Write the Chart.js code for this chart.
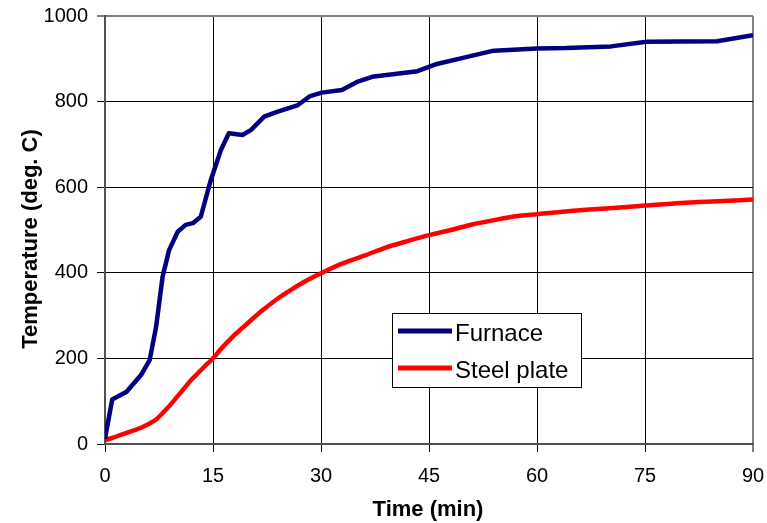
<!DOCTYPE html>
<html>
<head>
<meta charset="utf-8">
<script src="https://cdn.jsdelivr.net/npm/chart.js@4.4.0/dist/chart.umd.min.js"></script>
<style>
  html, body { margin: 0; padding: 0; background: #fff; }
  #wrap { width: 767px; height: 523px; }
</style>
</head>
<body>
<div id="wrap"><canvas id="chart" width="767" height="523"></canvas></div>
<script>
// furnace readings (min, deg C)
const furnaceTime = [0, 1, 3, 5, 6.2, 7.1, 8, 8.9, 10.1, 11.2, 12.2, 13.3, 14.7, 16.1, 17.2, 19.1, 20.3, 22.1, 23.9, 26.7, 28.5, 30.1, 32.9, 35, 37.1, 43.4, 46.1, 49.4, 54, 60, 64, 70.3, 75.2, 85, 90];
const furnaceTemp = [12, 104, 122, 161, 196, 274, 391, 453, 496, 512, 516, 531, 617, 687, 726, 722, 734, 765, 776, 791, 813, 821, 827, 846, 858, 871, 888, 901, 919, 924, 925, 929, 940, 941, 955];

// steel plate readings (min, deg C)
const steelTime = [0, 1, 2, 3, 4, 5, 6, 7, 8, 9, 10, 11, 12, 13, 14, 15, 16, 17, 18, 19, 20, 21, 22, 24, 26, 28, 30, 33, 36, 39, 42, 45, 48, 51, 54, 57, 60, 65, 70, 75, 80, 85, 90];
const steelTemp = [9, 14, 20, 26, 32, 38, 46, 56, 72, 90, 110, 130, 150, 167, 184, 200, 220, 238, 255, 270, 285, 300, 314, 340, 362, 382, 399, 422, 440, 459, 474, 488, 500, 513, 523, 532, 537, 545, 551, 557, 563, 567, 571];

const xTicks = [0, 15, 30, 45, 60, 75, 90];
const yTicks = [0, 200, 400, 600, 800, 1000];

const seriesNames = ["Furnace", "Steel plate"];
const seriesColors = ["#000080", "#ff0000"];

const FONT = "'Liberation Sans', Arial, sans-serif";

// legend box + axis titles drawn on top
const overlay = {
  id: "overlay",
  afterDraw(chart) {
    const ctx = chart.ctx;
    ctx.save();

    // x title
    ctx.fillStyle = "#000";
    ctx.font = "bold 22px " + FONT;
    ctx.textAlign = "center";
    ctx.textBaseline = "alphabetic";
    ctx.fillText("Time (min)", 428, 516);

    // y title
    ctx.save();
    ctx.translate(37, 239);
    ctx.rotate(-Math.PI / 2);
    ctx.fillText("Temperature (deg. C)", 0, 0);
    ctx.restore();

    // legend
    const lx = 392, ly = 313, lw = 189, lh = 74;
    ctx.fillStyle = "#fff";
    ctx.fillRect(lx, ly, lw, lh);
    ctx.strokeStyle = "#000";
    ctx.lineWidth = 1;
    ctx.strokeRect(lx + 0.5, ly + 0.5, lw, lh);

    const rows = [331, 368];
    ctx.font = "24px " + FONT;
    ctx.textAlign = "left";
    seriesNames.forEach((name, i) => {
      ctx.strokeStyle = seriesColors[i];
      ctx.lineWidth = 5;
      ctx.beginPath();
      ctx.moveTo(398, rows[i]);
      ctx.lineTo(452, rows[i]);
      ctx.stroke();
      ctx.fillStyle = "#000";
      ctx.fillText(name, 455, rows[i] + 10);
    });

    ctx.restore();
  }
};

new Chart(document.getElementById("chart"), {
  type: "line",
  data: {
    datasets: [
      {
        label: seriesNames[0],
        data: furnaceTime.map((t, i) => ({ x: t, y: furnaceTemp[i] })),
        borderColor: seriesColors[0],
        borderWidth: 4.5,
        pointRadius: 0,
        tension: 0,
        borderJoinStyle: "round",
        fill: false
      },
      {
        label: seriesNames[1],
        data: steelTime.map((t, i) => ({ x: t, y: steelTemp[i] })),
        borderColor: seriesColors[1],
        borderWidth: 4.5,
        pointRadius: 0,
        tension: 0.3,
        borderJoinStyle: "round",
        fill: false
      }
    ]
  },
  options: {
    responsive: false,
    animation: false,
    devicePixelRatio: 1,
    layout: { padding: { top: 16, right: 14, left: 0, bottom: 0 } },
    plugins: { legend: { display: false }, tooltip: { enabled: false } },
    scales: {
      x: {
        type: "linear",
        min: 0,
        max: 90,
        afterBuildTicks: s => { s.ticks = xTicks.map(v => ({ value: v })); },
        afterFit: s => {
          s.height = 79;
          s.paddingLeft = 0;
          s.paddingRight = 0;
        },
        ticks: { color: "#000", font: { family: FONT, size: 20 }, padding: 12, maxRotation: 0, callback: v => String(v) },
        grid: {
          color: c => (c.tick && c.tick.value === 90 ? "#808080" : "#000"),
          lineWidth: c => (c.tick && c.tick.value === 90 ? 2 : 1),
          tickColor: "#000",
          tickWidth: 1,
          tickLength: 8
        },
        border: { color: "#505050", width: 2 }
      },
      y: {
        min: 0,
        max: 1000,
        afterBuildTicks: s => { s.ticks = yTicks.map(v => ({ value: v })); },
        afterFit: s => {
          s.width = 105;
          s.paddingTop = 0;
          s.paddingBottom = 0;
        },
        ticks: { color: "#000", font: { family: FONT, size: 20 }, padding: 9, callback: v => String(v) },
        grid: {
          color: c => (c.tick && c.tick.value === 1000 ? "#808080" : "#000"),
          lineWidth: c => (c.tick && c.tick.value === 1000 ? 2 : 1),
          tickColor: "#000",
          tickWidth: 1,
          tickLength: 8
        },
        border: { color: "#505050", width: 2 }
      }
    }
  },
  plugins: [overlay]
});
</script>
</body>
</html>
